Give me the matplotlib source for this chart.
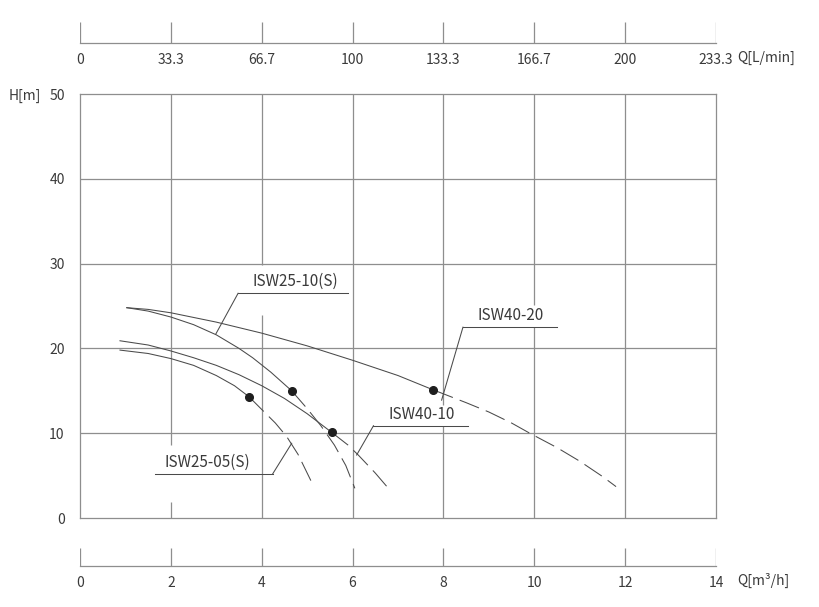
import matplotlib.pyplot as plt

plt.rcParams['font.family'] = ['Noto Sans CJK SC', 'DejaVu Sans']

GRID = '#8e8e8e'
LINE = '#4a4a4a'
TEXT = '#3a3a3a'

# axis ticks
q_m3h_ticks = [0, 2, 4, 6, 8, 10, 12, 14]
q_lmin_ticks = [0, 33.3, 66.7, 100, 133.3, 166.7, 200, 233.3]
h_ticks = [0, 10, 20, 30, 40, 50]

# pump curves (Q in m3/h, H in m): solid part up to the duty point, dashed after
isw25_10_q = [1.03, 1.5, 2.0, 2.5, 3.0, 3.5, 3.8, 4.2, 4.66]
isw25_10_h = [24.8, 24.4, 23.7, 22.8, 21.6, 20.0, 18.9, 17.2, 15.0]
isw25_10_q_ext = [4.66, 5.0, 5.3, 5.6, 5.85, 6.05]
isw25_10_h_ext = [15.0, 12.9, 10.9, 8.6, 6.2, 3.5]

isw40_20_q = [1.03, 1.5, 2.0, 3.0, 4.0, 5.0, 6.0, 7.0, 7.78]
isw40_20_h = [24.8, 24.6, 24.2, 23.1, 21.8, 20.3, 18.6, 16.8, 15.1]
isw40_20_q_ext = [7.78, 8.5, 9.0, 9.5, 9.9, 10.5, 11.0, 11.5, 11.8]
isw40_20_h_ext = [15.1, 13.6, 12.5, 11.2, 10.0, 8.3, 6.7, 4.9, 3.7]

isw40_10_q = [0.88, 1.5, 2.0, 2.5, 3.0, 3.5, 4.0, 4.5, 5.0, 5.54]
isw40_10_h = [20.9, 20.4, 19.7, 18.9, 18.0, 16.9, 15.6, 14.1, 12.3, 10.1]
isw40_10_q_ext = [5.54, 5.9, 6.13, 6.5, 6.82]
isw40_10_h_ext = [10.1, 8.6, 7.4, 5.3, 3.3]

isw25_05_q = [0.88, 1.5, 2.0, 2.5, 3.0, 3.4, 3.72]
isw25_05_h = [19.8, 19.4, 18.8, 18.0, 16.8, 15.6, 14.3]
isw25_05_q_ext = [3.72, 4.0, 4.3, 4.55, 4.8, 5.11]
isw25_05_h_ext = [14.3, 12.8, 11.2, 9.6, 7.5, 4.1]

# labels: name, text x, underline y, underline x0, x1, leader start x, leader end (x, y)
labels = [
    ('ISW25-10(S)', 4.73, 26.5, 3.48, 5.90, 3.48, 2.99, 21.7),
    ('ISW40-20', 9.49, 22.5, 8.43, 10.49, 8.43, 7.96, 13.9),
    ('ISW40-10', 7.52, 10.88, 6.46, 8.55, 6.46, 6.09, 7.43),
    ('ISW25-05(S)', 2.80, 5.19, 1.65, 4.24, 4.24, 4.66, 8.81),
]

# gaps in the vertical grid lines behind the labels
grid_gaps = {2: (1.9, 8.6), 4: (23.9, 29.8), 8: (10.9, 13.3), 10: (22.5, 25.1)}

fig = plt.figure(figsize=(8.2, 6.07), dpi=100)
left, width = 80 / 820, 636 / 820

# main chart
ax = fig.add_axes([left, 89 / 607, width, 424 / 607])
ax.set_xlim(0, 14)
ax.set_ylim(0, 50)
for s in ax.spines.values():
    s.set_color(GRID)
    s.set_linewidth(0.9)
ax.set_xticks([])
ax.set_yticks(h_ticks)
ax.tick_params(axis='y', length=0, pad=11, labelsize=10, labelcolor=TEXT)

for h in h_ticks[1:-1]:
    ax.axhline(h, color=GRID, lw=0.9, zorder=1)
for q in q_m3h_ticks[1:-1]:
    if q in grid_gaps:
        g0, g1 = grid_gaps[q]
        ax.vlines(q, 0, g0, color=GRID, lw=0.9, zorder=1)
        ax.vlines(q, g1, 50, color=GRID, lw=0.9, zorder=1)
    else:
        ax.vlines(q, 0, 50, color=GRID, lw=0.9, zorder=1)

curves = [
    (isw25_10_q, isw25_10_h, isw25_10_q_ext, isw25_10_h_ext),
    (isw40_20_q, isw40_20_h, isw40_20_q_ext, isw40_20_h_ext),
    (isw40_10_q, isw40_10_h, isw40_10_q_ext, isw40_10_h_ext),
    (isw25_05_q, isw25_05_h, isw25_05_q_ext, isw25_05_h_ext),
]
for q, h, qe, he in curves:
    ax.plot(q, h, color=LINE, lw=0.75, zorder=3, solid_joinstyle='round')
    ax.plot(qe, he, color=LINE, lw=0.75, ls=(0, (20, 7)), zorder=3)
    ax.plot(q[-1], h[-1], 'o', color='#1e1e1e', markersize=5.5, zorder=4)

for name, tx, uy, ux0, ux1, lx0, lx1, ly1 in labels:
    ax.plot([ux0, ux1], [uy, uy], color=LINE, lw=0.75, zorder=3)
    ax.plot([lx0, lx1], [uy, ly1], color=LINE, lw=0.75, zorder=3)
    ax.text(tx, uy + 0.35, name, ha='center', va='bottom', fontsize=11, color=TEXT)

fig.text(25 / 820, 1 - 96 / 607, 'H[m]', ha='center', va='center', fontsize=10, color=TEXT)


def scale_axis(bottom, height, ticks, xmax, title, title_y):
    a = fig.add_axes([left, bottom, width, height])
    a.set_xlim(0, xmax)
    a.set_ylim(0, 1)
    for k in ['top', 'left', 'right']:
        a.spines[k].set_visible(False)
    a.spines['bottom'].set_color(GRID)
    a.spines['bottom'].set_linewidth(0.9)
    a.vlines(ticks, 0, 1, color=GRID, lw=0.9)
    a.set_yticks([])
    a.set_xticks(ticks)
    a.set_xticklabels([f'{t:g}' for t in ticks])
    a.tick_params(axis='x', length=0, pad=7, labelsize=10, labelcolor=TEXT)
    fig.text(737 / 820, 1 - title_y / 607, title, ha='left', va='center', fontsize=10, color=TEXT)
    return a


scale_axis(1 - 43 / 607, 21 / 607, q_lmin_ticks, 233.3, 'Q[L/min]', 58)
scale_axis(1 - 566 / 607, 18 / 607, q_m3h_ticks, 14, 'Q[m³/h]', 580)

fig.savefig('out.png', dpi=100)
